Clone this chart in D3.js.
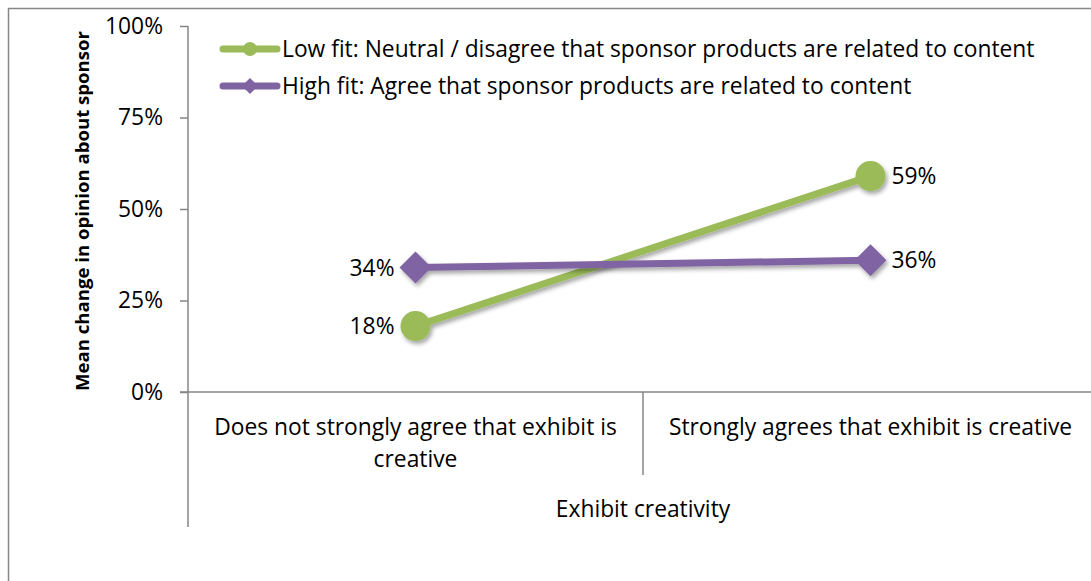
<!DOCTYPE html>
<html>
<head>
<meta charset="utf-8">
<script src="https://cdn.jsdelivr.net/npm/d3@7"></script>
<style>
  html, body { margin: 0; padding: 0; background: #fff; }
  svg { display: block; font-family: "Open Sans", "Noto Sans", sans-serif; }
</style>
</head>
<body>
<svg id="chart" width="1091" height="581"></svg>
<script>
// Categories along the x axis (two-line label for the first)
const categories = ["Does not strongly agree that exhibit is creative", "Strongly agrees that exhibit is creative"];
const categoryLines = [["Does not strongly agree that exhibit is", "creative"], ["Strongly agrees that exhibit is creative"]];

// Series values (mean change in opinion)
const lowFitValues = [0.18, 0.59];
const highFitValues = [0.34, 0.36];

const seriesNames = [
  "Low fit: Neutral / disagree that sponsor products are related to content",
  "High fit: Agree that sponsor products are related to content"
];
const seriesColors = ["#9BBB59", "#8064A2"];
const seriesShapes = ["circle", "diamond"];

const yTicks = [0, 0.25, 0.5, 0.75, 1];
const yTitle = "Mean change in opinion about sponsor";
const xTitle = "Exhibit creativity";

const series = [
  { name: seriesNames[0], values: lowFitValues, color: seriesColors[0], shape: seriesShapes[0], labelSide: [-1, 1] },
  { name: seriesNames[1], values: highFitValues, color: seriesColors[1], shape: seriesShapes[1], labelSide: [-1, 1] }
];

const svg = d3.select("#chart");
const axisColor = "#868686";
const fontFamily = '"Open Sans", "Noto Sans", sans-serif';
const fontSize = "22.8px";

// Outer chart frame
svg.append("rect")
  .attr("x", 8.5).attr("y", 8.5)
  .attr("width", 1200).attr("height", 700)
  .attr("fill", "none").attr("stroke", axisColor).attr("stroke-width", 1.5);

// Drop shadow for the series marks
const defs = svg.append("defs");
const shadow = defs.append("filter").attr("id", "shadow")
  .attr("x", "-30%").attr("y", "-30%").attr("width", "160%").attr("height", "160%");
shadow.append("feDropShadow")
  .attr("dx", 2).attr("dy", 3).attr("stdDeviation", 2.2)
  .attr("flood-color", "#000").attr("flood-opacity", 0.35);

const plot = { left: 188, right: 1098, top: 26, bottom: 392 };

const x = d3.scaleBand().domain(categories).range([plot.left, plot.right]).padding(0);
const y = d3.scaleLinear().domain([0, 1]).range([plot.bottom, plot.top]);

// Y axis
const yAxis = svg.append("g")
  .attr("transform", `translate(${plot.left},0)`)
  .call(d3.axisLeft(y).tickValues(yTicks).tickFormat(d3.format(".0%")).tickSize(8).tickPadding(17));
yAxis.attr("font-family", fontFamily).attr("font-size", fontSize);
yAxis.select(".domain").remove();
yAxis.selectAll(".tick line").attr("stroke", axisColor).attr("stroke-width", 1.5);
yAxis.selectAll(".tick text").attr("fill", "#000").style("font-size", fontSize).style("font-family", fontFamily);

// Vertical axis line (runs down through the category label area)
svg.append("line")
  .attr("x1", plot.left).attr("x2", plot.left)
  .attr("y1", plot.top).attr("y2", 527)
  .attr("stroke", axisColor).attr("stroke-width", 1.5);

// Horizontal category axis
svg.append("line")
  .attr("x1", plot.left - 8).attr("x2", plot.right)
  .attr("y1", plot.bottom).attr("y2", plot.bottom)
  .attr("stroke", axisColor).attr("stroke-width", 1.5);

// Category dividers
categories.slice(1).forEach(c => {
  svg.append("line")
    .attr("x1", x(c)).attr("x2", x(c))
    .attr("y1", plot.bottom).attr("y2", 475)
    .attr("stroke", axisColor).attr("stroke-width", 1.5);
});

// Category labels
categories.forEach((c, i) => {
  const t = svg.append("text")
    .attr("x", x(c) + x.bandwidth() / 2)
    .attr("y", 435)
    .attr("text-anchor", "middle")
    .style("font-size", fontSize)
    .attr("fill", "#000");
  categoryLines[i].forEach((ln, j) => {
    t.append("tspan").attr("x", x(c) + x.bandwidth() / 2).attr("dy", j === 0 ? 0 : 32).text(ln);
  });
});

// Axis titles
svg.append("text")
  .attr("x", 643).attr("y", 517)
  .attr("text-anchor", "middle")
  .style("font-size", fontSize)
  .text(xTitle);

svg.append("text")
  .attr("transform", `translate(89,211) rotate(-90)`)
  .attr("text-anchor", "middle")
  .style("font-size", "18.6px").style("font-weight", "bold")
  .text(yTitle);

// Marker drawing helper
function drawMarker(g, shape, cx, cy, size, color) {
  if (shape === "circle") {
    g.append("circle").attr("cx", cx).attr("cy", cy).attr("r", size).attr("fill", color);
  } else {
    g.append("path")
      .attr("d", `M${cx},${cy - size}L${cx + size},${cy}L${cx},${cy + size}L${cx - size},${cy}Z`)
      .attr("fill", color);
  }
}

const cx = c => x(c) + x.bandwidth() / 2;
const line = d3.line().x((d, i) => cx(categories[i])).y(d => y(d));
const pct = d3.format(".0%");

// Series lines, markers and value labels
series.forEach(s => {
  const g = svg.append("g").attr("filter", "url(#shadow)");
  g.append("path")
    .attr("d", line(s.values))
    .attr("fill", "none")
    .attr("stroke", s.color)
    .attr("stroke-width", 7)
    .attr("stroke-linecap", "round");
  s.values.forEach((v, i) => {
    drawMarker(g, s.shape, cx(categories[i]), y(v), s.shape === "circle" ? 15 : 16, s.color);
  });
  s.values.forEach((v, i) => {
    const side = s.labelSide[i];
    svg.append("text")
      .attr("x", cx(categories[i]) + side * 21)
      .attr("y", y(v))
      .attr("dy", "0.36em")
      .attr("text-anchor", side < 0 ? "end" : "start")
      .style("font-size", fontSize)
      .attr("fill", "#000")
      .text(pct(v));
  });
});

// Legend
const legendY = [49, 86];
series.forEach((s, i) => {
  const g = svg.append("g");
  g.append("line")
    .attr("x1", 223).attr("x2", 277)
    .attr("y1", legendY[i]).attr("y2", legendY[i])
    .attr("stroke", s.color).attr("stroke-width", 7).attr("stroke-linecap", "round");
  drawMarker(g, s.shape, 250, legendY[i], s.shape === "circle" ? 7 : 8, s.color);
  svg.append("text")
    .attr("x", 282).attr("y", legendY[i])
    .attr("dy", "0.36em")
    .style("font-size", fontSize)
    .attr("fill", "#000")
    .text(s.name);
});
</script>
</body>
</html>
